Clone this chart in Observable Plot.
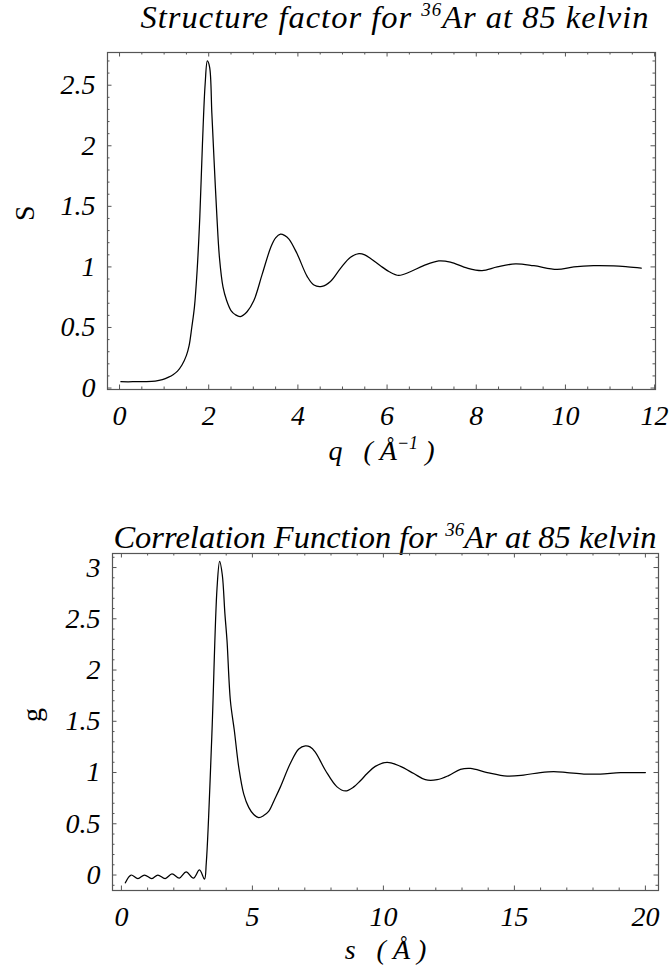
<!DOCTYPE html>
<html><head><meta charset="utf-8">
<script src="https://cdn.jsdelivr.net/npm/d3@7"></script>
<script src="https://cdn.jsdelivr.net/npm/@observablehq/plot@0.6"></script>
<style>
html,body{margin:0;padding:0;background:#fff;}
body{width:669px;height:978px;position:relative;overflow:hidden;font-family:"Liberation Serif","Times New Roman",serif;}
.title{position:absolute;white-space:nowrap;text-align:center;font-family:"Liberation Serif","Times New Roman",serif;font-style:italic;font-size:32.5px;line-height:34px;color:#000;}
.title sup{font-size:19px;line-height:0;vertical-align:super;}
.plot{position:absolute;left:0;}
</style></head><body>
<div class="title" style="left:121px;width:548px;top:0px;letter-spacing:1px">Structure factor for <sup>36</sup>Ar at 85 kelvin</div>
<div id="p1" class="plot" style="top:44px"></div>
<div class="title" style="left:112px;width:546px;top:520px">Correlation Function for <sup>36</sup>Ar at 85 kelvin</div>
<div id="p2" class="plot" style="top:550px"></div>
<script>
// ---- data: structure factor S(q) ----
const qValues = [0.03, 0.3, 0.6, 0.8, 0.96, 1.1, 1.2, 1.3, 1.4, 1.5, 1.56, 1.62, 1.68, 1.74, 1.80, 1.86, 1.92, 1.97, 2.02, 2.07, 2.12, 2.18, 2.24, 2.32, 2.40, 2.50, 2.60, 2.71, 2.86, 3.01, 3.20, 3.39, 3.50, 3.61, 3.70, 3.80, 3.98, 4.21, 4.36, 4.54, 4.73, 4.96, 5.18, 5.37, 5.50, 5.63, 5.85, 6.05, 6.26, 6.52, 6.82, 7.16, 7.42, 7.80, 8.13, 8.47, 8.88, 9.29, 9.81, 10.19, 10.63, 11.08, 11.40, 11.70];
const sfValues = [0.052, 0.052, 0.053, 0.058, 0.07, 0.09, 0.11, 0.14, 0.19, 0.27, 0.35, 0.50, 0.67, 0.97, 1.41, 2.02, 2.51, 2.70, 2.65, 2.27, 1.88, 1.44, 1.08, 0.835, 0.725, 0.64, 0.605, 0.59, 0.63, 0.72, 0.94, 1.16, 1.24, 1.27, 1.26, 1.23, 1.11, 0.92, 0.85, 0.84, 0.88, 0.99, 1.08, 1.11, 1.10, 1.07, 1.01, 0.96, 0.93, 0.96, 1.01, 1.05, 1.04, 0.99, 0.97, 1.0, 1.025, 1.01, 0.98, 1.0, 1.01, 1.008, 1.0, 0.99];
// ---- data: pair correlation g(s) ----
const sValues = [0.15, 0.37, 0.63, 0.88, 1.16, 1.39, 1.67, 1.93, 2.21, 2.47, 2.75, 2.98, 3.17, 3.24, 3.45, 3.65, 3.75, 3.85, 3.95, 4.03, 4.16, 4.31, 4.48, 4.67, 4.86, 5.05, 5.24, 5.43, 5.62, 5.85, 6.07, 6.45, 6.77, 7.02, 7.20, 7.40, 7.79, 8.23, 8.55, 8.87, 9.12, 9.38, 9.69, 10.14, 10.65, 11.16, 11.60, 12.05, 12.49, 12.94, 13.32, 13.96, 14.72, 15.35, 15.99, 16.50, 17.01, 17.65, 18.28, 19.05, 20.0];
const gValues = [-0.076, 0.0, -0.035, 0.0, -0.035, 0.0, -0.035, 0.01, -0.03, 0.03, -0.03, 0.05, -0.04, 0.12, 1.35, 2.80, 3.06, 2.93, 2.55, 2.29, 1.70, 1.41, 1.05, 0.79, 0.66, 0.59, 0.56, 0.58, 0.62, 0.74, 0.86, 1.09, 1.23, 1.26, 1.25, 1.20, 1.02, 0.86, 0.82, 0.86, 0.92, 0.99, 1.06, 1.10, 1.06, 0.99, 0.93, 0.93, 0.97, 1.03, 1.04, 1.00, 0.965, 0.975, 1.0, 1.01, 1.0, 0.985, 0.985, 0.998, 1.0];
// ---- tick labels ----
const qTicks = [0, 2, 4, 6, 8, 10, 12];
const sfTicks = [0, 0.5, 1, 1.5, 2, 2.5];
const sTicks = [0, 5, 10, 15, 20];
const gTicks = [0, 0.5, 1, 1.5, 2, 2.5, 3];

const NB = "\u00A0";

function minor(major, step, domain) {
  const out = [];
  const n = Math.round((domain[1] - domain[0]) / step) + 2;
  const start = Math.ceil(domain[0] / step) * step;
  for (let i = 0; i < n; i++) {
    const v = +(start + i * step).toFixed(6);
    if (v < domain[0] || v > domain[1]) continue;
    if (major.some(m => Math.abs(m - v) < 1e-6)) continue;
    out.push(v);
  }
  return out;
}

function chart(o) {
  const data = o.xs.map((x, i) => ({x, y: o.ys[i]}));
  const xMinor = minor(o.xMajor, o.xStep, o.xDomain);
  const yMinor = minor(o.yMajor, o.yStep, o.yDomain);
  const xMaj = o.xMajor.filter(v => v >= o.xDomain[0] && v <= o.xDomain[1] + 1e-9);
  const yMaj = o.yMajor.filter(v => v >= o.yDomain[0] && v <= o.yDomain[1]);
  const ph = o.height - o.mt - o.mb;      // plot area height (px)
  const pw = 669 - o.ml - o.mr;           // plot area width (px)
  const big = 4.5, small = 2.5;
  const tk = {stroke: "#555", strokeWidth: 1};
  const font = {fontFamily: "'Liberation Serif', 'Times New Roman', serif", fontSize: 28, fontStyle: "italic", fill: "#000"};
  const fmt = d => String(d);
  return Plot.plot({
    width: 669, height: o.height,
    marginTop: o.mt, marginBottom: o.mb, marginLeft: o.ml, marginRight: o.mr,
    x: {domain: o.xDomain, axis: null},
    y: {domain: o.yDomain, axis: null},
    style: {background: "transparent", overflow: "visible"},
    marks: [
      // inward ticks on all four sides
      Plot.tickX(xMaj, {x: d => d, insetTop: ph - big, ...tk}),
      Plot.tickX(xMinor, {x: d => d, insetTop: ph - small, ...tk}),
      Plot.tickX(xMaj, {x: d => d, insetBottom: ph - big, ...tk}),
      Plot.tickX(xMinor, {x: d => d, insetBottom: ph - small, ...tk}),
      Plot.tickY(yMaj, {y: d => d, insetRight: pw - big, ...tk}),
      Plot.tickY(yMinor, {y: d => d, insetRight: pw - small, ...tk}),
      Plot.tickY(yMaj, {y: d => d, insetLeft: pw - big, ...tk}),
      Plot.tickY(yMinor, {y: d => d, insetLeft: pw - small, ...tk}),
      Plot.frame({stroke: "#555", strokeWidth: 1.2}),
      Plot.axisX(xMaj, {anchor: "bottom", tickSize: 0, tickPadding: 16, tickFormat: fmt, label: null, ...font}),
      Plot.axisY(yMaj, {anchor: "left", tickSize: 0, tickPadding: 12, tickFormat: fmt, label: null, ...font}),
      Plot.line(data, {x: "x", y: "y", stroke: "#000", strokeWidth: 1.25, curve: "catmull-rom"}),
      Plot.text([o.yLabel], {frameAnchor: "left", dx: o.yLabelDx, rotate: -90, fontFamily: font.fontFamily, fontSize: 28, fill: "#000"}),
      Plot.text([o.xLabel], {frameAnchor: "bottom", dy: o.xLabelDy, ...font})
    ]
  });
}

function rich(svg, key, parts) {
  const t = [...svg.querySelectorAll("text")].find(e => e.textContent === key);
  if (!t) return;
  t.textContent = "";
  for (const [s, mode] of parts) {
    const ts = document.createElementNS("http://www.w3.org/2000/svg", "tspan");
    ts.textContent = s;
    if (mode === "sup") { ts.setAttribute("font-size", "18"); ts.setAttribute("dy", "-11"); }
    if (mode === "back") ts.setAttribute("dy", "11");
    t.appendChild(ts);
  }
}

const c1 = chart({
  xs: qValues, ys: sfValues,
  xDomain: [-0.27, 12.02], yDomain: [-0.012, 2.77],
  xMajor: qTicks, yMajor: sfTicks, xStep: 0.5, yStep: 0.1,
  height: 440, mt: 8, mb: 95, ml: 107, mr: 14,
  yLabel: "S", yLabelDx: -82, xLabel: "q", xLabelDy: 70
});
rich(c1, "q", [["q" + NB + NB + NB + "(" + NB + "Å", ""], ["−1", "sup"], [NB + ")", "back"]]);
document.getElementById("p1").appendChild(c1);

const c2 = chart({
  xs: sValues, ys: gValues,
  xDomain: [-0.34, 20.5], yDomain: [-0.151, 3.137],
  xMajor: sTicks, yMajor: gTicks, xStep: 1, yStep: 0.1,
  height: 428, mt: 3, mb: 88, ml: 112, mr: 11,
  yLabel: "g", yLabelDx: -80, xLabel: "s", xLabelDy: 68
});
rich(c2, "s", [["s" + NB + NB + NB + "(" + NB + "Å" + NB + ")", ""]]);
document.getElementById("p2").appendChild(c2);
</script>
</body></html>
